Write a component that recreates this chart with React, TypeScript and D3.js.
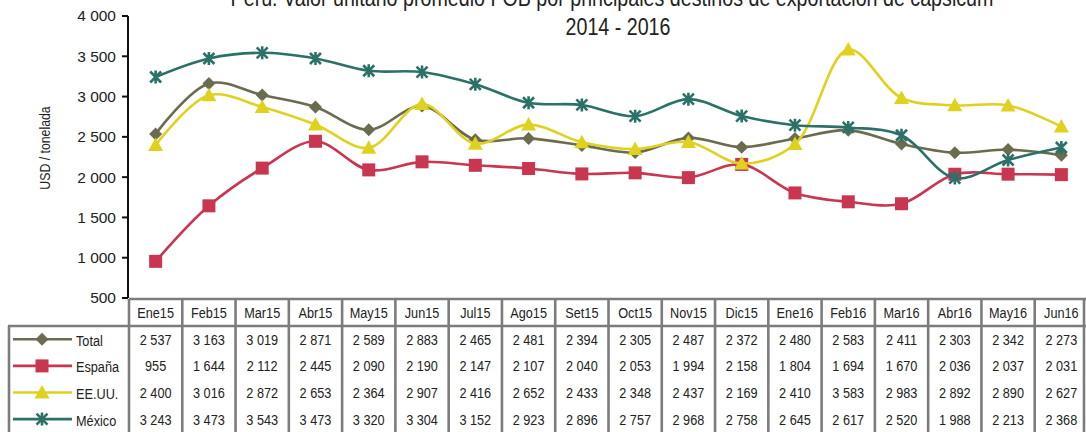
import React from 'react';
import * as d3 from 'd3';

const months = ['Ene15', 'Feb15', 'Mar15', 'Abr15', 'May15', 'Jun15', 'Jul15', 'Ago15', 'Set15', 'Oct15', 'Nov15', 'Dic15', 'Ene16', 'Feb16', 'Mar16', 'Abr16', 'May16', 'Jun16'];
const total = [2537, 3163, 3019, 2871, 2589, 2883, 2465, 2481, 2394, 2305, 2487, 2372, 2480, 2583, 2411, 2303, 2342, 2273];
const espana = [955, 1644, 2112, 2445, 2090, 2190, 2147, 2107, 2040, 2053, 1994, 2158, 1804, 1694, 1670, 2036, 2037, 2031];
const eeuu = [2400, 3016, 2872, 2653, 2364, 2907, 2416, 2652, 2433, 2348, 2437, 2169, 2410, 3583, 2983, 2892, 2890, 2627];
const mexico = [3243, 3473, 3543, 3473, 3320, 3304, 3152, 2923, 2896, 2757, 2968, 2758, 2645, 2617, 2520, 1988, 2213, 2368];
const yTicks = [500, 1000, 1500, 2000, 2500, 3000, 3500, 4000];

const series = [
  { name: 'Total', values: total, color: '#6b6b50', marker: 'diamond' },
  { name: 'España', values: espana, color: '#c8364f', marker: 'square' },
  { name: 'EE.UU.', values: eeuu, color: '#dfd21f', marker: 'triangle' },
  { name: 'México', values: mexico, color: '#2b7168', marker: 'star' },
];

const sans = '"Liberation Sans", Arial, sans-serif';
const fmt = d3.formatLocale({ decimal: ',', thousands: ' ', grouping: [3], currency: ['', ''] }).format(',d');

const W = 1086;
const H = 432;
const plotLeft = 129;
const plotRight = 1088;
const plotTop = 16;
const plotBottom = 298;
const headerBottom = 326;
const rowH = 26.6;
const gridColor = '#7c7c7c';

// condensed text (the original uses a narrow font)
const NText = ({ x, y, size, anchor = 'start', rotate = 0, children }: any) => (
  <text
    transform={`translate(${x},${y}) rotate(${rotate}) scale(0.82,1)`}
    dy="0.35em"
    textAnchor={anchor}
    fontFamily={sans}
    fontSize={size}
    fill="#222"
  >
    {children}
  </text>
);

const Marker = ({ type, x, y, color }: { type: string; x: number; y: number; color: string }) => {
  if (type === 'diamond') {
    const s = 6.5;
    return <path d={`M${x},${y - s}L${x + s},${y}L${x},${y + s}L${x - s},${y}Z`} fill={color} />;
  }
  if (type === 'square') {
    const s = 6.5;
    return <rect x={x - s} y={y - s} width={s * 2} height={s * 2} fill={color} />;
  }
  if (type === 'triangle') {
    const s = 7.5;
    return <path d={`M${x},${y - s}L${x + s},${y + s * 0.8}L${x - s},${y + s * 0.8}Z`} fill={color} />;
  }
  const s = 5.5;
  return (
    <path
      d={`M${x - s},${y - s}L${x + s},${y + s}M${x - s},${y + s}L${x + s},${y - s}M${x},${y - s - 1}L${x},${y + s + 1}`}
      stroke={color}
      strokeWidth={2.6}
      fill="none"
    />
  );
};

const App = () => {
  const x = d3.scaleBand().domain(months).range([plotLeft, plotRight]);
  const y = d3.scaleLinear().domain([500, 4000]).range([plotBottom, plotTop]);
  const cx = (m: string) => (x(m) as number) + x.bandwidth() / 2;

  const line = d3
    .line<number>()
    .x((_, i) => cx(months[i]))
    .y((d) => y(d))
    .curve(d3.curveCatmullRom.alpha(0.5));

  return (
    <svg width={W} height={H} style={{ position: 'absolute', left: 0, top: 0, background: '#fff' }}>
      <NText x={612} y={-2} size={24} anchor="middle">
        Perú: Valor unitario promedio FOB por principales destinos de exportación de capsicum
      </NText>
      <NText x={618} y={27} size={24} anchor="middle">
        2014 - 2016
      </NText>

      <NText x={45} y={148} size={15} anchor="middle" rotate={-90}>
        USD / tonelada
      </NText>

      {/* y axis */}
      <line x1={plotLeft - 1} x2={plotLeft - 1} y1={plotTop} y2={plotBottom} stroke="#111" strokeWidth={2} />
      {yTicks.map((t) => (
        <g key={t}>
          <line x1={plotLeft - 7} x2={plotLeft - 1} y1={y(t)} y2={y(t)} stroke="#111" strokeWidth={2} />
          <text x={116} y={y(t)} dy="0.35em" textAnchor="end" fontFamily={sans} fontSize={15.5} fill="#222">
            {fmt(t)}
          </text>
        </g>
      ))}

      {/* lines */}
      {series.map((s) => (
        <g key={s.name}>
          <path d={line(s.values) as string} fill="none" stroke={s.color} strokeWidth={2.6} />
          {s.values.map((v, i) => (
            <Marker key={i} type={s.marker} x={cx(months[i])} y={y(v)} color={s.color} />
          ))}
        </g>
      ))}

      {/* data table */}
      <g fill="none" stroke={gridColor} strokeWidth={2.6}>
        <line x1={plotLeft} x2={W} y1={plotBottom + 1} y2={plotBottom + 1} />
        <line x1={8} x2={W} y1={headerBottom} y2={headerBottom} />
        <line x1={9} x2={9} y1={headerBottom} y2={H} />
        {months.map((m) => (
          <line key={m} x1={x(m) as number} x2={x(m) as number} y1={plotBottom + 1} y2={H} />
        ))}
        <line x1={W - 2} x2={W - 2} y1={plotBottom + 1} y2={H} />
      </g>
      {months.map((m) => (
        <NText key={m} x={cx(m)} y={313} size={15.5} anchor="middle">
          {m}
        </NText>
      ))}
      {series.map((s, r) => {
        const ry = headerBottom + rowH * (r + 0.5);
        return (
          <g key={s.name}>
            <line x1={13} x2={72} y1={ry} y2={ry} stroke={s.color} strokeWidth={2.6} />
            <Marker type={s.marker} x={42} y={ry} color={s.color} />
            <NText x={76} y={ry + 1} size={15.5}>
              {s.name}
            </NText>
            {s.values.map((v, i) => (
              <NText key={i} x={cx(months[i])} y={ry} size={15.5} anchor="middle">
                {fmt(v)}
              </NText>
            ))}
          </g>
        );
      })}
    </svg>
  );
};

export default App;
